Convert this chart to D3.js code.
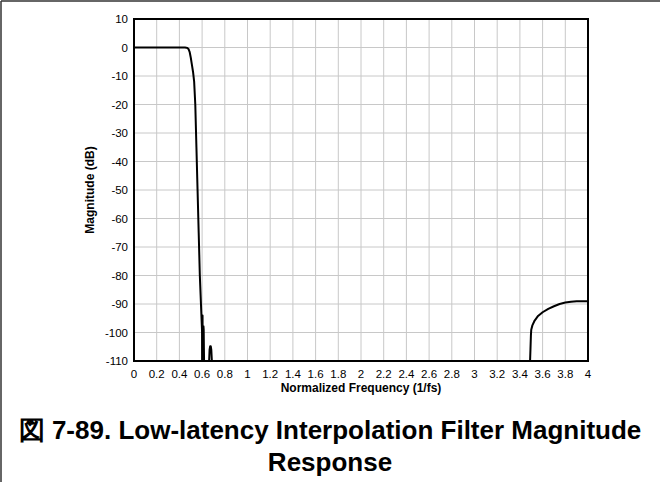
<!DOCTYPE html>
<html>
<head>
<meta charset="utf-8">
<script src="https://cdn.jsdelivr.net/npm/d3@7"></script>
<style>
  body { margin: 0; background: #fff; }
  svg { display: block; font-family: "Liberation Sans", Arial, sans-serif; }
</style>
</head>
<body>
<div id="chart"></div>
<script>
// tick values
const xTicks = [0, 0.2, 0.4, 0.6, 0.8, 1, 1.2, 1.4, 1.6, 1.8, 2, 2.2, 2.4, 2.6, 2.8, 3, 3.2, 3.4, 3.6, 3.8, 4];
const yTicks = [10, 0, -10, -20, -30, -40, -50, -60, -70, -80, -90, -100, -110];

// passband + transition (freq, dB)
const passFreq = [0, 0.1, 0.2, 0.3, 0.4, 0.45, 0.46, 0.47, 0.48, 0.49, 0.5, 0.51, 0.52, 0.53, 0.54, 0.55, 0.56, 0.57, 0.58, 0.59, 0.6, 0.602];
const passMag  = [0, 0, 0, 0, 0, 0, -0.05, -0.15, -0.5, -1.5, -3.5, -6, -8.5, -12, -20, -35, -50, -65, -80, -90, -100, -112];

// stopband ripples near 0.6
const rippleFreq = [0.602, 0.603, 0.604, 0.6055, 0.607, 0.609, 0.612, 0.614, 0.616, 0.618, 0.66, 0.666, 0.671, 0.676, 0.681, 0.686, 0.69];
const rippleMag  = [-112, -100, -94, -112, -112, -100, -97.8, -99, -106, -112, -112, -106, -104.8, -104.8, -106, -110, -112];

// image band near 4 fs
const imageFreq = [3.488, 3.493, 3.497, 3.5, 3.51, 3.53, 3.56, 3.6, 3.65, 3.7, 3.75, 3.8, 3.85, 3.9, 4.0];
const imageMag  = [-112, -106, -101, -99, -97.5, -95.8, -94.2, -92.9, -91.7, -90.8, -90, -89.5, -89.2, -89, -89];

const width = 660, height = 482;
const margin = { left: 134, right: 72, top: 19, bottom: 121 };
const pw = width - margin.left - margin.right;
const ph = height - margin.top - margin.bottom;

const svg = d3.select("#chart").append("svg")
    .attr("width", width)
    .attr("height", height);

// page frame (top + left)
svg.append("line").attr("x1", 1).attr("x2", width).attr("y1", 1).attr("y2", 1)
    .attr("stroke", "#333").attr("stroke-width", 1.5);
svg.append("line").attr("x1", 1).attr("x2", 1).attr("y1", 1).attr("y2", height)
    .attr("stroke", "#333").attr("stroke-width", 1.5);

const x = d3.scaleLinear().domain([0, 4]).range([0, pw]);
const y = d3.scaleLinear().domain([-110, 10]).range([ph, 0]);

const g = svg.append("g").attr("transform", `translate(${margin.left},${margin.top})`);

g.append("clipPath").attr("id", "clip")
  .append("rect").attr("width", pw).attr("height", ph);

// grid
g.append("g").selectAll("line").data(xTicks).enter().append("line")
    .attr("x1", d => x(d)).attr("x2", d => x(d))
    .attr("y1", 0).attr("y2", ph)
    .attr("stroke", "#c8c8c8").attr("stroke-width", 1);
g.append("g").selectAll("line").data(yTicks).enter().append("line")
    .attr("x1", 0).attr("x2", pw)
    .attr("y1", d => y(d)).attr("y2", d => y(d))
    .attr("stroke", "#c8c8c8").attr("stroke-width", 1);

// curves
const line = d3.line().x(d => x(d[0])).y(d => y(d[1]));
const curves = [
    d3.zip(passFreq, passMag),
    d3.zip(rippleFreq, rippleMag),
    d3.zip(imageFreq, imageMag)
];
g.append("g").attr("clip-path", "url(#clip)")
  .selectAll("path").data(curves).enter().append("path")
    .attr("d", line)
    .attr("fill", "none")
    .attr("stroke", "#000")
    .attr("stroke-width", 2)
    .attr("stroke-linejoin", "round");

// frame
g.append("rect").attr("width", pw).attr("height", ph)
    .attr("fill", "none").attr("stroke", "#000").attr("stroke-width", 2);

// axes labels
g.append("g").selectAll("text").data(xTicks).enter().append("text")
    .attr("x", d => x(d)).attr("y", ph + 17)
    .attr("text-anchor", "middle")
    .attr("font-size", "11.5px")
    .text(d => d);
g.append("g").selectAll("text").data(yTicks).enter().append("text")
    .attr("x", -6).attr("y", d => y(d) + 4)
    .attr("text-anchor", "end")
    .attr("font-size", "11.5px")
    .text(d => d);

g.append("text")
    .attr("x", pw / 2).attr("y", ph + 31)
    .attr("text-anchor", "middle")
    .attr("font-size", "12px").attr("font-weight", "bold")
    .text("Normalized Frequency (1/fs)");

g.append("text")
    .attr("transform", `translate(-40,${ph / 2}) rotate(-90)`)
    .attr("text-anchor", "middle")
    .attr("font-size", "12px").attr("font-weight", "bold")
    .text("Magnitude (dB)");

// caption
svg.append("text")
    .attr("x", 330).attr("y", 439)
    .attr("text-anchor", "middle")
    .attr("font-size", "26px").attr("font-weight", "bold")
    .text("図 7-89. Low-latency Interpolation Filter Magnitude");
svg.append("text")
    .attr("x", 330).attr("y", 471)
    .attr("text-anchor", "middle")
    .attr("font-size", "26px").attr("font-weight", "bold")
    .text("Response");
</script>
</body>
</html>
